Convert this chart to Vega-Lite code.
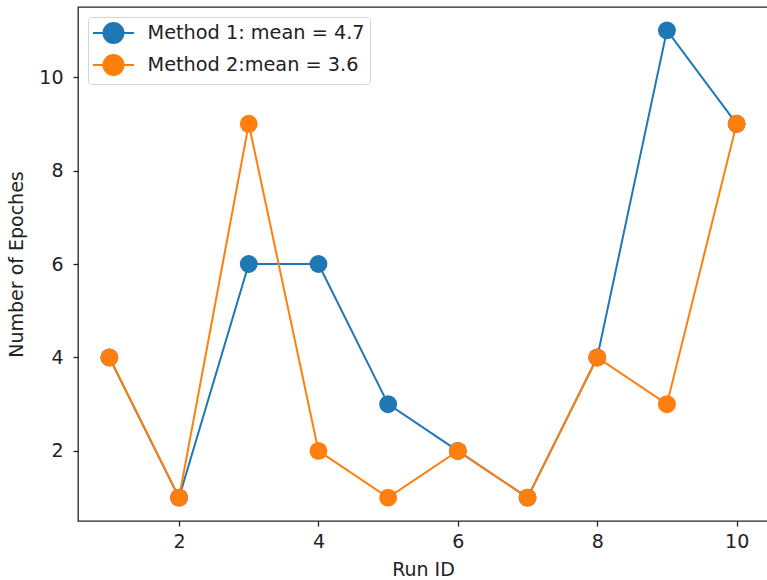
{
  "$schema": "https://vega.github.io/schema/vega-lite/v6.json",
  "autosize": {"type": "none"},
  "padding": {"left": 78, "top": 7, "right": 0, "bottom": 59},
  "width": 690,
  "height": 514,
  "background": "white",
  "config": {
    "view": {"stroke": "#222", "strokeWidth": 1.3},
    "font": "DejaVu Sans",
    "axis": {
      "grid": false,
      "domain": false,
      "tickColor": "#222",
      "tickSize": 5,
      "tickWidth": 1.3,
      "labelFontSize": 19,
      "labelColor": "#222",
      "titleFontSize": 19,
      "titleFontWeight": "normal",
      "titleColor": "#222",
      "labelFont": "DejaVu Sans",
      "titleFont": "DejaVu Sans"
    }
  },
  "data": {
    "values": [
      {"run": 1, "epochs": 4, "series": "Method 1: mean = 4.7"},
      {"run": 2, "epochs": 1, "series": "Method 1: mean = 4.7"},
      {"run": 3, "epochs": 6, "series": "Method 1: mean = 4.7"},
      {"run": 4, "epochs": 6, "series": "Method 1: mean = 4.7"},
      {"run": 5, "epochs": 3, "series": "Method 1: mean = 4.7"},
      {"run": 6, "epochs": 2, "series": "Method 1: mean = 4.7"},
      {"run": 7, "epochs": 1, "series": "Method 1: mean = 4.7"},
      {"run": 8, "epochs": 4, "series": "Method 1: mean = 4.7"},
      {"run": 9, "epochs": 11, "series": "Method 1: mean = 4.7"},
      {"run": 10, "epochs": 9, "series": "Method 1: mean = 4.7"},
      {"run": 1, "epochs": 4, "series": "Method 2:mean = 3.6"},
      {"run": 2, "epochs": 1, "series": "Method 2:mean = 3.6"},
      {"run": 3, "epochs": 9, "series": "Method 2:mean = 3.6"},
      {"run": 4, "epochs": 2, "series": "Method 2:mean = 3.6"},
      {"run": 5, "epochs": 1, "series": "Method 2:mean = 3.6"},
      {"run": 6, "epochs": 2, "series": "Method 2:mean = 3.6"},
      {"run": 7, "epochs": 1, "series": "Method 2:mean = 3.6"},
      {"run": 8, "epochs": 4, "series": "Method 2:mean = 3.6"},
      {"run": 9, "epochs": 3, "series": "Method 2:mean = 3.6"},
      {"run": 10, "epochs": 9, "series": "Method 2:mean = 3.6"}
    ]
  },
  "encoding": {
    "x": {
      "field": "run", "type": "quantitative",
      "scale": {"domain": [0.55, 10.45], "nice": false, "zero": false},
      "axis": {"values": [2, 4, 6, 8, 10], "title": "Run ID", "titlePadding": 9, "labelPadding": 6}
    },
    "y": {
      "field": "epochs", "type": "quantitative",
      "scale": {"domain": [0.5, 11.5], "nice": false, "zero": false},
      "axis": {"values": [2, 4, 6, 8, 10], "title": "Number of Epoches", "titlePadding": 12, "labelPadding": 10}
    },
    "color": {
      "field": "series", "type": "nominal",
      "scale": {"range": ["#1f77b4", "#ff7f0e"]},
      "legend": {
        "title": null,
        "orient": "none",
        "legendX": 10,
        "legendY": 10,
        "labelFontSize": 19.3,
        "labelColor": "#222",
        "labelFont": "DejaVu Sans",
        "labelLimit": 400,
        "symbolType": "M-2.05,0 L2.05,0 M-1,0 A1,1 0 1,1 1,0 A1,1 0 1,1 -1,0 Z",
        "symbolSize": 400,
        "symbolStrokeWidth": 2,
        "symbolOffset": 9.5,
        "labelOffset": 23,
        "rowPadding": 4,
        "padding": 5,
        "strokeColor": "#d5d5d5",
        "fillColor": "rgba(255,255,255,0.8)",
        "cornerRadius": 3
      }
    }
  },
  "layer": [
    {"mark": {"type": "line", "strokeWidth": 2}},
    {"mark": {"type": "point", "filled": true, "size": 320, "opacity": 1}}
  ]
}
